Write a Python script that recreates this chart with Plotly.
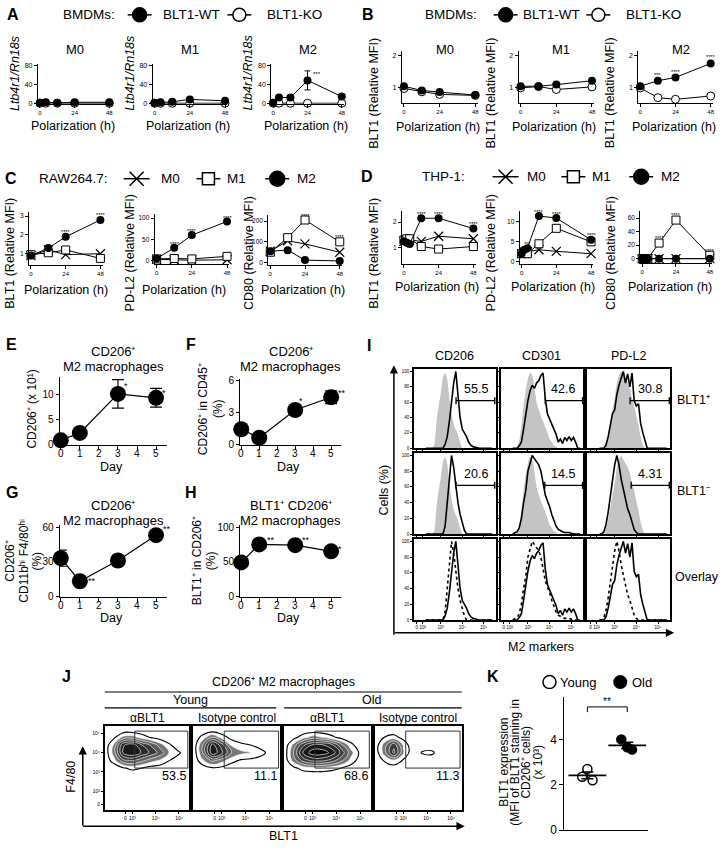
import numpy as np
import plotly.graph_objects as go

W, H = 723, 851
FONT = "Liberation Sans"

# ======================= DATA =======================
# A: Ltb4r1/Rn18s in BMDMs
A_hours = [0, 4, 12, 24, 48]
A_M0_WT = [1, 2, 1, 2, 2]
A_M0_KO = [0, 0, 0, 0, 0]
A_M1_WT = [1, 2, 3, 8, 5]
A_M1_KO = [0, 0, 0, 0, 0]
A_M2_WT = [1, 12, 12, 48, 14]
A_M2_WT_err = [0, 1, 1, 20, 5]
A_M2_KO = [0, 0, 0, 0, 0]

# B: BLT1 (relative MFI) in BMDMs
B_hours = [0, 12, 24, 48]
B_M0_WT = [1.05, 0.92, 0.87, 0.78]
B_M0_KO = [0.98, 0.88, 0.80, 0.77]
B_M1_WT = [1.05, 1.05, 1.10, 1.22]
B_M1_KO = [1.00, 1.04, 0.95, 1.03]
B_M2_WT = [1.05, 1.22, 1.32, 1.75]
B_M2_WT_err = [0, 0.03, 0.03, 0.06]
B_M2_KO = [1.00, 0.70, 0.65, 0.75]

# C: RAW264.7
C_hours = [0, 12, 24, 48]
C_BLT1 = {"M0": [0.90, 1.20, 0.95, 1.00], "M1": [0.95, 1.05, 1.20, 0.75], "M2": [0.90, 1.30, 1.90, 2.80]}
C_PDL2 = {"M0": [3, 2, 1, 2], "M1": [4, 5, 4, 10], "M2": [5, 30, 60, 92]}
C_CD80 = {"M0": [55, 105, 90, 50], "M1": [50, 120, 205, 100], "M2": [55, 60, 12, 8]}

# D: THP-1
D_hours = [0, 2, 4, 12, 24, 48]
D_BLT1 = {"M0": [1.25, 1.30, 1.30, 1.25, 1.45, 1.35], "M1": [1.30, 1.35, 1.35, 1.05, 0.95, 1.05],
          "M2": [1.25, 1.20, 1.15, 2.15, 2.15, 1.75]}
D_PDL2 = {"M0": [2.0, 2.0, 2.5, 3.0, 2.6, 2.0], "M1": [2.0, 2.5, 2.0, 4.5, 8.4, 5.0],
          "M2": [2.0, 3.0, 3.4, 11.5, 11.0, 5.5]}
D_CD80 = {"M0": [0, 0, 0, 0, 0, 0], "M1": [0, 0, 0, 23, 57, 5], "M2": [0, 0, 0, 0, 0, 0]}

# E-H
days = [0, 1, 3, 5]
E_vals = [0.8, 2.3, 10.2, 9.4]; E_err = [0.3, 0.3, 2.9, 1.9]; E_stars = ["", "", "*", "*"]
F_vals = [1.4, 0.6, 3.2, 4.4];  F_err = [0.5, 0.1, 0.1, 0.6]; F_stars = ["", "", "*", "**"]
G_vals = [33, 13, 31, 53];      G_err = [7, 1, 1, 1];         G_stars = ["", "**", "", "**"]
H_vals = [49, 75, 74, 65];      H_err = [1, 1, 1, 1];         H_stars = ["", "**", "**", "*"]

# I: histograms (cells %, on log-fluorescence grid)
U_I = [2.3, 2.4, 2.5, 2.6, 2.7, 2.8, 2.9, 3.0, 3.1, 3.2, 3.3, 3.4, 3.5, 3.6, 3.7, 3.8,
       3.9, 4.0, 4.1, 4.2, 4.3, 4.4, 4.5, 4.6, 4.7, 4.8, 4.9, 5.0, 5.1, 5.2, 5.3, 5.4]
iso_CD206 = [0, 0, 0, 0, 5, 35, 55, 72, 92, 98, 90, 65, 45, 32, 24, 18, 8, 0, 0, 0, 0, 0, 0, 0, 0, 0, 0, 0, 0, 0, 0, 0]
pos_CD206 = [0, 0, 0, 0, 0, 0, 0, 0, 0, 5, 15, 35, 60, 85, 100, 70, 40, 25, 20, 15, 8, 4, 2, 1, 0, 0, 0, 0, 0, 0, 0, 0]
neg_CD206 = [0, 0, 0, 0, 0, 0, 0, 0, 0, 10, 40, 75, 100, 85, 62, 40, 25, 15, 5, 0, 0, 0, 0, 0, 0, 0, 0, 0, 0, 0, 0, 0]
iso_CD301 = [0, 0, 2, 10, 30, 55, 75, 90, 98, 95, 80, 60, 50, 42, 35, 28, 20, 12, 8, 4, 2, 0, 0, 0, 0, 0, 0, 0, 0, 0, 0, 0]
pos_CD301 = [0, 0, 0, 3, 8, 25, 45, 62, 75, 82, 78, 85, 88, 95, 98, 65, 45, 38, 30, 25, 18, 8, 12, 6, 14, 10, 15, 10, 14, 8, 0, 0]
neg_CD301 = [0, 2, 3, 8, 20, 40, 55, 80, 92, 100, 96, 92, 88, 80, 65, 50, 42, 35, 25, 18, 10, 6, 4, 3, 2, 2, 2, 1, 0, 0, 0, 0]
iso_PDL2 = [0, 0, 2, 8, 18, 35, 50, 65, 85, 95, 100, 95, 90, 85, 78, 65, 55, 42, 30, 15, 5, 0, 0, 0, 0, 0, 0, 0, 0, 0, 0, 0]
pos_PDL2 = [0, 0, 0, 4, 15, 30, 45, 50, 70, 82, 90, 100, 85, 97, 80, 98, 62, 55, 58, 32, 20, 8, 0, 0, 0, 0, 0, 0, 0, 0, 0, 0]
neg_PDL2 = [0, 0, 3, 12, 28, 48, 68, 88, 100, 88, 70, 58, 45, 32, 25, 15, 6, 2, 0, 0, 0, 0, 0, 0, 0, 0, 0, 0, 0, 0, 0, 0]
I_markers = ["CD206", "CD301", "PD-L2"]
I_gate_start = [[3.71, 3.80, 3.71], [3.71, 3.78, 3.76]]
I_gate_pct = [["55.5", "42.6", "30.8"], ["20.6", "14.5", "4.31"]]

# J: contour density grids
J_u = [1.8, 2.2, 2.6, 3.0, 3.4, 3.8, 4.2, 4.6, 5.0, 5.4]
J_v = [2.8, 3.2, 3.6, 4.0, 4.4, 4.8, 5.2]
J_young_aBLT1 = [[0] * 10,
                 [0, 0, 0.5, 0.8, 0.6, 0.3, 0.2, 0, 0, 0],
                 [0, 1.0, 2.5, 2.8, 2.2, 1.6, 1.2, 0.6, 0.2, 0],
                 [0, 1.6, 4.2, 4.8, 4.0, 3.2, 2.4, 1.2, 0.7, 0],
                 [0, 1.4, 4.0, 4.5, 3.4, 2.6, 1.6, 0.7, 0, 0],
                 [0, 0.4, 1.5, 1.6, 1.0, 0.5, 0.2, 0, 0, 0],
                 [0] * 10]
J_young_iso = [[0] * 10,
               [0, 0.2, 0.5, 0.4, 0.1, 0, 0, 0, 0, 0],
               [0, 1.2, 2.2, 1.6, 0.9, 0.5, 0.4, 0.2, 0, 0],
               [0, 2.0, 4.6, 3.6, 2.0, 1.5, 1.3, 1.0, 0.3, 0],
               [0, 2.0, 4.4, 3.0, 1.2, 0.8, 0.6, 0.2, 0, 0],
               [0, 0.9, 2.0, 1.0, 0.3, 0, 0, 0, 0, 0],
               [0] * 10]
J_old_aBLT1 = [[0] * 10,
               [0, 0.4, 0.9, 1.1, 1.1, 0.9, 0.6, 0.2, 0, 0],
               [0, 1.6, 3.0, 3.6, 3.6, 3.1, 2.2, 1.1, 0.2, 0],
               [0, 2.0, 4.2, 5.2, 5.2, 4.6, 3.2, 1.6, 0.4, 0],
               [0, 1.5, 3.2, 4.2, 4.2, 3.6, 2.2, 0.9, 0, 0],
               [0, 0.3, 1.0, 1.6, 1.3, 0.8, 0.3, 0, 0, 0],
               [0] * 10]
J_old_iso = [[0] * 10,
             [0, 0, 0.2, 0, 0, 0, 0, 0, 0, 0],
             [0, 0.7, 1.2, 0.5, 0, 0, 0, 0, 0, 0],
             [0, 1.6, 3.6, 1.4, 0, 0.7, 0.8, 0, 0, 0],
             [0, 1.6, 3.2, 1.2, 0, 0, 0, 0, 0, 0],
             [0, 0.6, 0.9, 0.3, 0, 0, 0, 0, 0, 0],
             [0] * 10]
J_gate_pct = ["53.5", "11.1", "68.6", "11.3"]
J_sub = ["αBLT1", "Isotype control", "αBLT1", "Isotype control"]

# K
K_young = [2.7, 2.35, 2.2]
K_old = [4.0, 3.65, 3.55]
K_jit_young = [0.0, -0.13, 0.13]
K_jit_old = [-0.15, 0.0, 0.12]

# ======================= FIGURE =======================
fig = go.Figure()
layout = dict(width=W, height=H, margin=dict(l=0, r=0, t=0, b=0),
              paper_bgcolor="white", plot_bgcolor="rgba(0,0,0,0)", showlegend=False,
              font=dict(family=FONT, color="black"))
annotations, shapes = [], []
axn = [0]


def X(p):
    return p / W


def Y(p):
    return 1 - p / H


def axes(x0, x1, y0, y1, xr, yr, xa=None, ya=None):
    axn[0] += 1
    s = "" if axn[0] == 1 else str(axn[0])
    bx = dict(domain=[X(x0), X(x1)], range=xr, anchor="y" + s, showgrid=False, zeroline=False, fixedrange=True)
    by = dict(domain=[Y(y1), Y(y0)], range=yr, anchor="x" + s, showgrid=False, zeroline=False, fixedrange=True)
    if xa:
        bx.update(xa)
    if ya:
        by.update(ya)
    layout["xaxis" + s] = bx
    layout["yaxis" + s] = by
    return "x" + s, "y" + s


def txt(t, x, y, size=12, xanchor="center", yanchor="middle", angle=0, bold=False, xref="paper", yref="paper"):
    if xref == "paper":
        x = X(x)
    if yref == "paper":
        y = Y(y)
    if bold:
        t = "<b>" + t + "</b>"
    annotations.append(dict(text=t, x=x, y=y, xref=xref, yref=yref, showarrow=False,
                            font=dict(size=size, family=FONT, color="black"),
                            xanchor=xanchor, yanchor=yanchor, textangle=angle, borderpad=0))


def prism(ticks, size=7, ticklen=3, lw=1, labels=None):
    d = dict(showline=True, linecolor="black", linewidth=lw, ticks="outside", ticklen=ticklen,
             tickwidth=lw, tickcolor="black", tickvals=ticks, tickangle=0,
             tickfont=dict(size=size, family=FONT, color="black"))
    if labels is not None:
        d["ticktext"] = labels
    return d


def add(tr):
    fig.add_trace(tr)


HRANGE = [-1.4, 49.6]

# ---------- A & B ----------
def wt_ko(xa, ya, hours, wt, ko, err=None):
    add(go.Scatter(x=hours, y=ko, xaxis=xa, yaxis=ya, mode="lines+markers", cliponaxis=False,
                   line=dict(color="black", width=1),
                   marker=dict(symbol="circle", size=8, color="white", line=dict(color="black", width=1))))
    tr = go.Scatter(x=hours, y=wt, xaxis=xa, yaxis=ya, mode="lines+markers", cliponaxis=False,
                    line=dict(color="black", width=1), marker=dict(symbol="circle", size=8, color="black"))
    if err:
        tr.error_y = dict(type="data", array=err, color="black", thickness=1, width=3)
    add(tr)


A_xpos = [(38, 112), (153, 228), (272, 345)]
A_sets = [(A_M0_WT, A_M0_KO, None), (A_M1_WT, A_M1_KO, None), (A_M2_WT, A_M2_KO, A_M2_WT_err)]
for i, ((x0, x1), (wt, ko, er), nm) in enumerate(zip(A_xpos, A_sets, ["M0", "M1", "M2"])):
    xa, ya = axes(x0, x1, 61, 101, HRANGE, [-1, 82], prism([0, 24, 48], 6), prism([0, 40, 80], 7))
    wt_ko(xa, ya, A_hours, wt, ko, er)
    txt(nm, (x0 + x1) / 2, 46, 13)
    txt("<i>Ltb4r1/Rn18s</i>", x0 - 23, 70, 12.5, angle=-90)
    txt("Polarization (h)", (x0 + x1) / 2 - 2, 124, 12.5)
    if nm == "M2":
        txt("***", 27, 62, 6, xanchor="left", xref=xa, yref=ya)

B_xpos = [(403, 479), (520, 596), (640, 715)]
B_sets = [(B_M0_WT, B_M0_KO, None), (B_M1_WT, B_M1_KO, None), (B_M2_WT, B_M2_KO, B_M2_WT_err)]
for (x0, x1), (wt, ko, er), nm in zip(B_xpos, B_sets, ["M0", "M1", "M2"]):
    xa, ya = axes(x0, x1, 48, 100, HRANGE, [0.545, 2.12], prism([0, 24, 48], 6), prism([1, 2], 7))
    wt_ko(xa, ya, B_hours, wt, ko, er)
    txt(nm, (x0 + x1) / 2 + 5, 46, 13)
    txt("BLT1 (Relative MFI)", x0 - 28, 90, 12.5, angle=-90)
    txt("Polarization (h)", (x0 + x1) / 2 - 2, 125, 12.5)
    if nm == "M2":
        for h, v, s in zip(B_hours[1:], [1.40, 1.50, 1.94], ["***", "****", "****"]):
            txt(s, h, v, 5.5, xref=xa, yref=ya)

# ---------- C & D ----------
def three(xa, ya, hours, dct):
    add(go.Scatter(x=hours, y=dct["M0"], xaxis=xa, yaxis=ya, mode="lines+markers", cliponaxis=False,
                   line=dict(color="black", width=1),
                   marker=dict(symbol="x-thin", size=9, color="black", line=dict(color="black", width=1.2))))
    add(go.Scatter(x=hours, y=dct["M1"], xaxis=xa, yaxis=ya, mode="lines+markers", cliponaxis=False,
                   line=dict(color="black", width=1),
                   marker=dict(symbol="square", size=8, color="white", line=dict(color="black", width=1))))
    add(go.Scatter(x=hours, y=dct["M2"], xaxis=xa, yaxis=ya, mode="lines+markers", cliponaxis=False,
                   line=dict(color="black", width=1), marker=dict(symbol="circle", size=8, color="black")))


C_specs = [((29, 103), (211, 264), [0.42, 3.21], [1, 2, 3], C_BLT1, "BLT1 (Relative MFI)",
            [(24, 2.18), (48, 3.07)]),
           ((155, 230), (213, 263), [-7, 109], [0, 50, 100], C_PDL2, "PD-L2 (Relative MFI)",
            [(12, 39), (24, 69), (48, 101)]),
           ((269, 343), (214, 264), [-9.5, 228], [0, 100, 200], C_CD80, "CD80 (Relative MFI)",
            [(24, 222), (48, 122)])]
C_ytitle_x = [10, 130, 249]
C_xt_c = [66, 185, 304]
for (xp, yp, yr, yt, dct, ttl, stars), tx, cx in zip(C_specs, C_ytitle_x, C_xt_c):
    xa, ya = axes(xp[0], xp[1], yp[0], yp[1], HRANGE, yr, prism([0, 24, 48], 6), prism(yt, 6.5))
    three(xa, ya, C_hours, dct)
    txt(ttl, tx, 252, 12.5, angle=-90)
    txt("Polarization (h)", cx, 290, 12.5)
    for h, v in stars:
        txt("****", h, v, 5.5, xref=xa, yref=ya)

D_specs = [((403, 477), (210, 263), [0.385, 2.42], [1, 2], D_BLT1, "BLT1 (Relative MFI)",
            [(12, "****", 2.32), (24, "****", 2.32), (48, "****", 1.93)]),
           ((521, 595), (210, 263), [-0.5, 12.7], [0, 5, 10], D_PDL2, "PD-L2 (Relative MFI)",
            [(4, "***", 4.4), (12, "****", 12.6), (24, "****", 12.1), (48, "****", 6.6)]),
           ((642, 714), (210, 262), [-5.9, 70], [0, 20, 40, 60], D_CD80, "CD80 (Relative MFI)",
            [(12, "****", 30), (24, "****", 64), (48, "****", 11)])]
D_ytitle_x = [375, 492, 612]
D_xt_c = [438, 555, 672]
for (xp, yp, yr, yt, dct, ttl, stars), tx, cx in zip(D_specs, D_ytitle_x, D_xt_c):
    xa, ya = axes(xp[0], xp[1], yp[0], yp[1], HRANGE, yr, prism([0, 24, 48], 6), prism(yt, 6.5))
    three(xa, ya, D_hours, dct)
    txt(ttl, tx, 252, 12.5, angle=-90)
    txt("Polarization (h)", cx, 287, 12.5)
    for h, s, v in stars:
        txt(s, h, v, 5.5, xref=xa, yref=ya)

# ---------- E-H ----------
EH_specs = [("E", (60, 167), (378, 447), [-0.2, 13.6], [0, 5, 10], E_vals, E_err, E_stars,
             ["CD206⁺", "M2 macrophages"], 352,
             [("CD206⁺ (x 10¹)", 32)], 410, 455, 469,
             [(3.25, 11.9), (5.25, 10.3)]),
            ("F", (241, 342), (380, 447), [-0.1, 6.1], [0, 3, 6], F_vals, F_err, F_stars,
             ["CD206⁺", "M2 macrophages"], 352,
             [("CD206⁺ in CD45⁺", 203), ("(%)", 218)], 410, 455, 469,
             [(3.15, 4.0), (5.3, 4.8)]),
            ("G", (60, 167), (528, 601), [-0.9, 61.7], [0, 30, 60], G_vals, G_err, G_stars,
             ["CD206⁺", "M2 macrophages"], 508,
             [("CD206⁺", 10), ("CD11bʰⁱ F4/80ʰⁱ", 24), ("(%)", 37)], 564, 609, 622,
             [(1.35, 13), (5.3, 58)]),
            ("H", (241, 342), (528, 601), [-1.4, 102.9], [0, 50, 100], H_vals, H_err, H_stars,
             ["BLT1⁺ CD206⁺", "M2 macrophages"], 508,
             [("BLT1⁺ in CD206⁺", 197), ("(%)", 211)], 564, 609, 622,
             [(1.35, 82), (3.35, 81), (5.3, 68)])]
for (L, xp, yp, yr, yt, vals, err, stars, ttl, tty, ytl, ytc, xtl, dayy, spos) in EH_specs:
    xa, ya = axes(xp[0], xp[1], yp[0], yp[1], [-0.05, 5.55], yr,
                  dict(prism([0, 1, 2, 3, 4, 5], 10, 4, 1.3), showticklabels=False),
                  prism(yt, 10, 3, 1.3))
    add(go.Scatter(x=days, y=vals, xaxis=xa, yaxis=ya, mode="lines+markers", cliponaxis=False,
                   line=dict(color="black", width=1.2), marker=dict(symbol="circle", size=16, color="black"),
                   error_y=dict(type="data", array=err, color="black", thickness=1.2, width=6)))
    for d in range(6):
        xpix = xp[0] + (d + 0.05) / 5.6 * (xp[1] - xp[0])
        txt(str(d), xpix, xtl, 10)
    txt("Day", (xp[0] + xp[1]) / 2 - 2, dayy, 12.5)
    cx = (xp[0] + xp[1]) / 2
    txt(ttl[0], cx, tty, 13)
    txt(ttl[1], cx, tty + 15, 13)
    for t, xx in ytl:
        txt(t, xx, ytc, 12, angle=-90)
    k = 0
    for s in stars:
        if s:
            sx, sy = spos[k]
            txt(s, sx, sy, 9, xanchor="left", xref=xa, yref=ya)
            k += 1
    lx = 12 if L in "EG" else 192
    txt(L, lx, 345 if L in "EF" else 495, 16, bold=True)

# ---------- I ----------
I_cols_x = [(415, 497), (502, 585), (589, 672)]
I_rows_y = [(370, 450), (455, 537), (542, 624)]
I_iso = [iso_CD206, iso_CD301, iso_PDL2]
I_pos = [pos_CD206, pos_CD301, pos_PDL2]
I_neg = [neg_CD206, neg_CD301, neg_PDL2]
I_xt = [1.88, 2.16, 3, 4, 5]
I_xl = ["0", "10²", "10³", "10⁴", "10⁵"]
for r, (y0, y1) in enumerate(I_rows_y):
    for c, (x0, x1) in enumerate(I_cols_x):
        xopt = dict(prism(I_xt, 4.5, 2, 1.5, I_xl), mirror=True, showticklabels=(r == 2), ticklen=2,
                    tickwidth=0.8)
        yopt = dict(prism([0, 20, 40, 60, 80, 100], 4.5, 2, 1.5), mirror=True, showticklabels=(c == 0),
                    tickwidth=0.8)
        xa, ya = axes(x0, x1, y0, y1, [1.74, 5.56], [0, 103], xopt, yopt)
        if r < 2:
            add(go.Scatter(x=U_I, y=I_iso[c], xaxis=xa, yaxis=ya, mode="lines", fill="tozeroy",
                           fillcolor="#c4c4c4", line=dict(width=0, color="#c4c4c4", shape="spline", smoothing=0.6)))
            cur = I_pos[c] if r == 0 else I_neg[c]
            add(go.Scatter(x=U_I, y=cur, xaxis=xa, yaxis=ya, mode="lines",
                           line=dict(color="black", width=1.6)))
            gs = I_gate_start[r][c]
            add(go.Scatter(x=[gs, 5.52], y=[62, 62], xaxis=xa, yaxis=ya, mode="lines+markers",
                           line=dict(color="black", width=1.3), cliponaxis=False,
                           marker=dict(symbol="line-ns", size=5, color="black", line=dict(color="black", width=1.3))))
            txt(I_gate_pct[r][c], 4.62, 77, 12.5, xref=xa, yref=ya)
        else:
            add(go.Scatter(x=U_I, y=I_neg[c], xaxis=xa, yaxis=ya, mode="lines",
                           line=dict(color="black", width=1.6, dash="dot")))
            add(go.Scatter(x=U_I, y=I_pos[c], xaxis=xa, yaxis=ya, mode="lines",
                           line=dict(color="black", width=1.6)))
for (x0, x1), nm in zip(I_cols_x, I_markers):
    txt(nm, (x0 + x1) / 2, 357, 12.5)
txt("BLT1⁺", 678, 401, 12.5, xanchor="left")
txt("BLT1⁻", 678, 493, 12.5, xanchor="left")
txt("Overlay", 676, 580, 12.5, xanchor="left")
txt("Cells (%)", 385, 492, 12.5, angle=-90)
txt("M2 markers", 543, 651, 12.5)
txt("I", 370, 346, 16, bold=True)

# ---------- J ----------
J_boxes_x = [(105, 190), (194, 281), (285, 372), (376, 463)]
J_dens = [J_young_aBLT1, J_young_iso, J_old_aBLT1, J_old_iso]
greys = [[0, "white"], [0.1, "white"], [0.12, "#8c8c8c"], [0.5, "#3a3a3a"], [1, "#000000"]]
for i, ((x0, x1), z) in enumerate(zip(J_boxes_x, J_dens)):
    xopt = dict(prism([2.7, 3.0, 4, 5], 5, 2, 1.5, ["0", "10³", "10⁴", "10⁵"]),
                mirror=True, tickwidth=0.8)
    yopt = dict(prism([1.3, 2, 3, 4, 5], 5, 2, 1.5, ["0", "10²", "10³", "10⁴", "10⁵"]),
                mirror=True, showticklabels=(i == 0), tickwidth=0.8)
    xa, ya = axes(x0, x1, 731, 817, [1.81, 5.45], [1.0, 5.41], xopt, yopt)
    add(go.Contour(x=J_u, y=J_v, z=z, xaxis=xa, yaxis=ya, showscale=False, zmin=0, zmax=5.5,
                   colorscale=greys, contours=dict(start=0.6, end=6, size=0.7, coloring="fill"),
                   line=dict(color="#f4f4f4", width=0.7, smoothing=1.2), hoverinfo="skip"))
    add(go.Contour(x=J_u, y=J_v, z=z, xaxis=xa, yaxis=ya, showscale=False,
                   contours=dict(start=0.6, end=0.6, size=1, coloring="none"),
                   line=dict(color="black", width=1.1, smoothing=1.2), hoverinfo="skip"))
    shapes.append(dict(type="rect", xref=xa, yref=ya, x0=3.1, x1=5.38, y0=3.2, y1=5.12,
                       line=dict(color="#333333", width=1)))
    txt(J_gate_pct[i], 5.36, 2.78, 12.5, xanchor="right", xref=xa, yref=ya)
    txt(J_sub[i], (x0 + x1) / 2, 723, 12)
txt("J", 67, 681, 16, bold=True)
txt("CD206⁺ M2 macrophages", 284, 687, 12.5)
txt("Young", 191, 705, 12.5)
txt("Old", 373, 705, 12.5)
for (a, b, yy) in [(105, 463, 697), (105, 277, 713), (285, 463, 713)]:
    shapes.append(dict(type="line", xref="paper", yref="paper", x0=X(a), x1=X(b), y0=Y(yy), y1=Y(yy),
                       line=dict(color="black", width=1.2)))
txt("F4/80", 71, 783, 12.5, angle=-90)
txt("BLT1", 284, 843, 12.5)

# ---------- K ----------
xa, ya = axes(566, 650, 702, 837, [0.425, 2.525], [0, 5.87],
              dict(showline=True, linecolor="black", linewidth=1.3, showticklabels=False, ticks=""),
              prism([0, 2, 4], 12, 4, 1.3))
for grp, vals, jit, filled in [(1, K_young, K_jit_young, False), (2, K_old, K_jit_old, True)]:
    m = float(np.mean(vals))
    sem = float(np.std(vals, ddof=1) / np.sqrt(len(vals)))
    add(go.Scatter(x=[grp + j for j in jit], y=vals, xaxis=xa, yaxis=ya, mode="markers", cliponaxis=False,
                   marker=dict(symbol="circle", size=9, color="black" if filled else "white",
                               line=dict(color="black", width=1.5))))
    add(go.Scatter(x=[grp], y=[m], xaxis=xa, yaxis=ya, mode="markers", cliponaxis=False,
                   marker=dict(symbol="line-ew", size=27, color="black", line=dict(color="black", width=1.8)),
                   error_y=dict(type="data", array=[sem], color="black", thickness=1.5, width=6)))
shapes.append(dict(type="path", xref=xa, yref=ya, path="M 1,5.2 L 1,5.43 L 2,5.43 L 2,5.2",
                   line=dict(color="black", width=1)))
txt("**", 1.5, 5.66, 10, xref=xa, yref=ya)
txt("K", 494, 681, 16, bold=True)
K_ylines = [("BLT1 expression", 505), ("(MFI of BLT1 staining in", 517), ("CD206⁺ cells)", 528),
            ("(x 10³)", 540)]
for t, xx in K_ylines:
    txt(t, xx, 768, 12, angle=-90)

# ---------- page layer: legends, arrows ----------
PX, PY = axes(0, W, 0, H, [0, W], [H, 0], dict(visible=False), dict(visible=False))


def glyph(cx, cy, symbol, fill, size=13, half=12):
    add(go.Scatter(x=[cx - half, cx + half], y=[cy, cy], xaxis=PX, yaxis=PY, mode="lines",
                   line=dict(color="black", width=1.5), hoverinfo="skip"))
    add(go.Scatter(x=[cx], y=[cy], xaxis=PX, yaxis=PY, mode="markers", hoverinfo="skip",
                   marker=dict(symbol=symbol, size=size, color=fill, line=dict(color="black", width=1.5))))


txt("A", 13, 11, 16, bold=True)
txt("BMDMs:", 62, 11, 13.5, xanchor="left")
glyph(140, 11, "circle", "black", 14)
txt("BLT1-WT", 162, 11, 13.5, xanchor="left")
glyph(240, 11, "circle", "white", 13)
txt("BLT1-KO", 267, 11, 13.5, xanchor="left")

txt("B", 369, 11, 16, bold=True)
txt("BMDMs:", 425, 11, 13.5, xanchor="left")
glyph(507, 11, "circle", "black", 14)
txt("BLT1-WT", 523, 11, 13.5, xanchor="left")
glyph(600, 11, "circle", "white", 13)
txt("BLT1-KO", 627, 11, 13.5, xanchor="left")

txt("C", 11, 177, 16, bold=True)
txt("RAW264.7:", 38, 177, 13.5, xanchor="left")
glyph(137, 177, "x-thin", "black", 14, 13)
txt("M0", 160, 177, 13.5, xanchor="left")
glyph(209, 177, "square", "white", 12, 12)
txt("M1", 227, 177, 13.5, xanchor="left")
glyph(278, 177, "circle", "black", 15, 12)
txt("M2", 297, 177, 13.5, xanchor="left")

txt("D", 368, 175, 16, bold=True)
txt("THP-1:", 422, 175, 13.5, xanchor="left")
glyph(507, 175, "x-thin", "black", 14, 13)
txt("M0", 527, 175, 13.5, xanchor="left")
glyph(575, 175, "square", "white", 12, 12)
txt("M1", 593, 175, 13.5, xanchor="left")
glyph(643, 175, "circle", "black", 15, 12)
txt("M2", 662, 175, 13.5, xanchor="left")

add(go.Scatter(x=[551], y=[687], xaxis=PX, yaxis=PY, mode="markers", hoverinfo="skip",
               marker=dict(symbol="circle", size=13, color="white", line=dict(color="black", width=1.5))))
txt("Young", 561, 687, 13, xanchor="left")
add(go.Scatter(x=[622], y=[687], xaxis=PX, yaxis=PY, mode="markers", hoverinfo="skip",
               marker=dict(symbol="circle", size=14, color="black")))
txt("Old", 633, 687, 13, xanchor="left")


def arrow(x_tip, y_tip, x_tail, y_tail):
    annotations.append(dict(x=X(x_tip), y=Y(y_tip), xref="paper", yref="paper", ax=x_tail - x_tip,
                            ay=y_tail - y_tip, axref="pixel", ayref="pixel", text="", showarrow=True,
                            arrowhead=2, arrowsize=1.1, arrowwidth=1.5, arrowcolor="black"))


arrow(395, 366, 395, 637)
arrow(676, 637, 395, 637)
arrow(83, 752, 83, 833)
arrow(466, 833, 83, 833)

layout["annotations"] = annotations
layout["shapes"] = shapes
fig.update_layout(**layout)
fig.write_html("out.html", config={"displayModeBar": False},
               post_script="document.body.style.margin='0';document.body.style.padding='0';"
                           "document.body.style.overflow='hidden';")
